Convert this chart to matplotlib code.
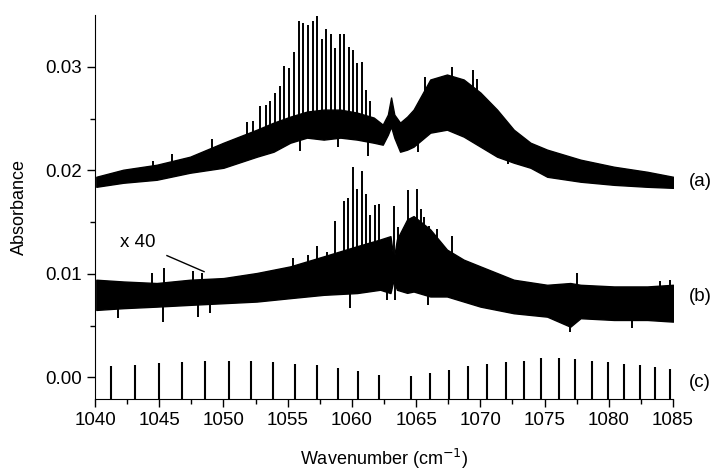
import matplotlib as mpl
mpl.use('Agg')
import matplotlib.pyplot as plt
import numpy as np

plt.rcParams['font.family'] = ['Liberation Sans', 'DejaVu Sans']

# trace (a): band (wavenumber, upper, lower)
a_wn = [1040.1, 1042.2, 1044.8, 1047.4, 1050.0, 1052.6, 1053.9, 1055.2, 1056.5, 1057.8,
        1059.1, 1060.4, 1061.7, 1062.4, 1062.8, 1063.05, 1063.3, 1063.75, 1064.3, 1064.8,
        1066.1, 1067.4, 1068.7, 1070.0, 1071.3, 1072.6, 1073.9, 1075.2, 1077.8, 1080.4,
        1083.0, 1085.0]
a_top = [0.01938, 0.02006, 0.02054, 0.02132, 0.02267, 0.02393, 0.02461, 0.02519, 0.02568, 0.02587,
         0.02587, 0.02558, 0.02510, 0.02442, 0.02539, 0.02704, 0.02539, 0.02461, 0.02519, 0.02587,
         0.02878, 0.02926, 0.02878, 0.02752, 0.02587, 0.02393, 0.02267, 0.02200, 0.02103, 0.02035,
         0.01986, 0.01938]
a_bot = [0.01841, 0.01880, 0.01909, 0.01977, 0.02025, 0.02132, 0.02180, 0.02267, 0.02316, 0.02297,
         0.02316, 0.02297, 0.02267, 0.02248, 0.02345, 0.02423, 0.02316, 0.02180, 0.02200, 0.02229,
         0.02364, 0.02393, 0.02326, 0.02229, 0.02132, 0.02074, 0.02025, 0.01938, 0.01890, 0.01860,
         0.01841, 0.01831]
# sharp lines on (a), upward and downward
a_line_wn = [1044.54, 1045.97, 1049.09, 1051.81, 1052.33,
             1052.85, 1053.32, 1053.63, 1054.02, 1054.41, 1054.74, 1055.13, 1055.48, 1055.86,
             1056.22, 1056.59, 1056.95, 1057.29, 1057.66, 1057.99, 1058.36, 1058.69, 1059.06,
             1059.39, 1059.76, 1060.09, 1060.43, 1060.77, 1061.11, 1061.42,
             1065.7, 1067.78, 1069.42, 1069.73]
a_line_top = [0.0209, 0.02158, 0.02304, 0.02469, 0.02481,
              0.02619, 0.02636, 0.02668, 0.02749, 0.02813, 0.03007, 0.02991, 0.03143, 0.03443,
              0.03427, 0.03401, 0.03443, 0.03491, 0.03266, 0.03369, 0.03314, 0.03185, 0.03314,
              0.03314, 0.03191, 0.03162, 0.03033, 0.03046, 0.02781, 0.02668,
              0.02903, 0.03, 0.02968, 0.02887]
a_dip_wn = [1055.97, 1058.95, 1061.24, 1065.18, 1072.19]
a_dip_val = [0.0219, 0.02223, 0.02141, 0.02174, 0.02061]

# trace (b), x 40
b_wn = [1040.1, 1042.2, 1044.8, 1047.4, 1050.0, 1052.6, 1055.2, 1057.8, 1060.4, 1062.2,
        1063.0, 1063.25, 1063.5, 1064.3, 1064.8, 1066.1, 1067.4, 1068.7, 1070.0, 1072.6,
        1075.2, 1077.0, 1077.8, 1080.4, 1083.0, 1085.0]
b_top = [0.00943, 0.00926, 0.00911, 0.00943, 0.00959, 0.01008, 0.01072, 0.01169, 0.01267, 0.01332,
         0.01364, 0.01137, 0.01332, 0.01526, 0.01558, 0.01429, 0.01234, 0.01137, 0.01072, 0.00943,
         0.00894, 0.00911, 0.00894, 0.00878, 0.00878, 0.00894]
b_bot = [0.00651, 0.00668, 0.00683, 0.00700, 0.00716, 0.00732, 0.00765, 0.00797, 0.00814, 0.00846,
         0.00814, 0.00943, 0.00846, 0.00816, 0.00829, 0.00781, 0.00781, 0.00732, 0.00683, 0.00619,
         0.00586, 0.00489, 0.00571, 0.00554, 0.00554, 0.00538]
b_line_wn = [1044.4, 1045.37, 1047.66, 1048.3, 1055.45, 1056.6,
             1057.27, 1058.05, 1058.69, 1059.39, 1059.73, 1060.09, 1060.43, 1060.77, 1061.11,
             1061.42, 1061.81, 1062.14, 1063.29, 1063.62, 1064.40, 1064.74, 1065.05, 1065.37,
             1065.65, 1066.04, 1066.61, 1067.78, 1077.5, 1084.0, 1084.8]
b_line_top = [0.01011, 0.01057, 0.01024, 0.01008, 0.01154, 0.01186,
              0.01273, 0.01208, 0.01510, 0.01704, 0.01737, 0.02029, 0.01824, 0.01996, 0.01769,
              0.01565, 0.01662, 0.01672, 0.01652, 0.01451, 0.01808, 0.01526, 0.01818, 0.01623,
              0.01545, 0.01461, 0.01429, 0.01364, 0.01008, 0.00926, 0.00943]
b_dip_wn = [1041.8, 1045.27, 1048.05, 1048.96, 1059.86, 1062.7, 1063.36, 1065.96, 1077.0, 1081.8]
b_dip_val = [0.00571, 0.00538, 0.00586, 0.00619, 0.00668, 0.00748, 0.00748, 0.00700, 0.00440, 0.00473]

# stick spectrum (c)
c_wn = [1041.22, 1043.12, 1044.99, 1046.80, 1048.60, 1050.40, 1052.17, 1053.88, 1055.60,
        1057.30, 1058.90, 1060.50, 1062.10,
        1064.57, 1066.08, 1067.59, 1069.07, 1070.52, 1071.96, 1073.36, 1074.73, 1076.09,
        1077.38, 1078.66, 1079.94, 1081.21, 1082.43, 1083.62, 1084.75]
c_h = [0.00109, 0.00123, 0.00136, 0.00148, 0.00155, 0.00155, 0.00155, 0.00145, 0.00133,
       0.00114, 0.00087, 0.00058, 0.00026,
       0.00010, 0.00042, 0.00075, 0.00107, 0.00129, 0.00148, 0.00158, 0.00189, 0.00189,
       0.00179, 0.00155, 0.00145, 0.00133, 0.00119, 0.00104, 0.00084]


def trace(ax, wn, top, bot, up_wn, up_val, dn_wn, dn_val):
    mid = (np.array(top) + np.array(bot)) / 2
    ax.fill_between(wn, bot, top, color='black', lw=1.0)
    ax.vlines(up_wn, np.interp(up_wn, wn, mid), up_val, color='black', lw=1.4)
    ax.vlines(dn_wn, dn_val, np.interp(dn_wn, wn, mid), color='black', lw=1.4)


fig = plt.figure(figsize=(7.16, 4.73), dpi=100)
ax = fig.add_axes([0.1327, 0.1564, 0.8073, 0.8116])
ymin = -0.0021

trace(ax, a_wn, a_top, a_bot, a_line_wn, a_line_top, a_dip_wn, a_dip_val)
trace(ax, b_wn, b_top, b_bot, b_line_wn, b_line_top, b_dip_wn, b_dip_val)
ax.vlines(c_wn, ymin, c_h, color='black', lw=1.5)

ax.set_xlim(1040, 1085)
ax.set_ylim(ymin, 0.035)
ax.set_xticks(np.arange(1040, 1086, 5))
ax.set_xticks(np.arange(1040, 1086, 2.5), minor=True)
ax.set_yticks([0.0, 0.01, 0.02, 0.03])
ax.set_yticks([0.005, 0.015, 0.025], minor=True)
ax.set_yticklabels(['0.00', '0.01', '0.02', '0.03'])
ax.tick_params(which='major', direction='out', length=6, width=1, labelsize=13.5)
ax.tick_params(which='minor', direction='out', length=3.5, width=1)
for s in ['top', 'right']:
    ax.spines[s].set_visible(False)

ax.set_xlabel('Wavenumber (cm$^{-1}$)', fontsize=13, labelpad=13)
ax.set_ylabel('Absorbance', fontsize=13, labelpad=12)

ax.text(1086.2, 0.0189, '(a)', fontsize=13.5, va='center', clip_on=False)
ax.text(1086.2, 0.0078, '(b)', fontsize=13.5, va='center', clip_on=False)
ax.text(1086.2, -0.0005, '(c)', fontsize=13.5, va='center', clip_on=False)
ax.text(1041.95, 0.0130, 'x 40', fontsize=13.5, va='center')
ax.plot([1045.6, 1048.49], [0.01176, 0.01021], color='black', lw=1)

plt.savefig('out.png', dpi=100)
